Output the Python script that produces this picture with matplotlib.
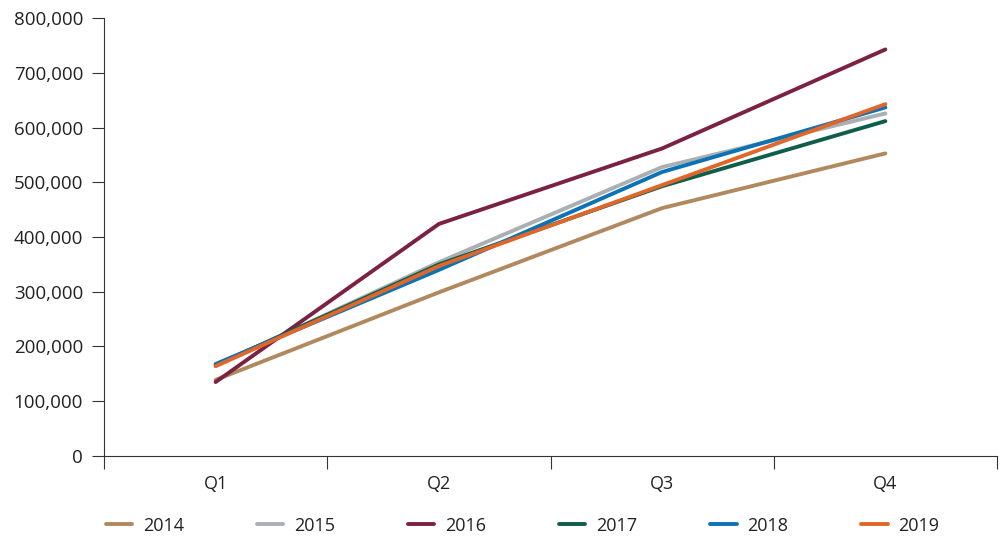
import matplotlib
matplotlib.use('Agg')
import matplotlib.pyplot as plt
import numpy as np
from matplotlib.ticker import FuncFormatter, FixedLocator

quarters = ['Q1', 'Q2', 'Q3', 'Q4']
years = ['2014', '2015', '2016', '2017', '2018', '2019']
v2014 = [139000, 299000, 453000, 553000]
v2015 = [165000, 354000, 528000, 626000]
v2016 = [135000, 424000, 562000, 743000]
v2017 = [166000, 350000, 493000, 612000]
v2018 = [168000, 340000, 519000, 637000]
v2019 = [164000, 347000, 495000, 643000]
colors = ['#B08A5E', '#A9AFB2', '#7B2141', '#0F5E4C', '#0B72B5', '#E0662A']

plt.rcParams['font.family'] = ['Open Sans', 'DejaVu Sans']

fig = plt.figure(figsize=(10, 5.37), dpi=100)
ax = fig.add_axes([0.104, 0.151, 0.893, 0.815])

x = np.arange(len(quarters))
for vals, yr, c in zip([v2014, v2015, v2016, v2017, v2018, v2019], years, colors):
    ax.plot(x, vals, color=c, lw=2.8, label=yr, solid_capstyle='round')

ax.set_xlim(-0.5, 3.5)
ax.set_ylim(0, 800000)
ax.set_yticks(np.arange(0, 800001, 100000))
ax.yaxis.set_major_formatter(FuncFormatter(lambda v, p: f'{int(v):,}'))
ax.set_xticks(x)
ax.set_xticklabels(quarters)
ax.xaxis.set_minor_locator(FixedLocator([-0.5, 0.5, 1.5, 2.5, 3.5]))
ax.tick_params(axis='x', which='major', length=0, pad=14, labelsize=13, labelcolor='#222222')
ax.tick_params(axis='x', which='minor', length=9, width=0.8, color='#333333')
ax.tick_params(axis='y', length=9, width=0.8, pad=6, labelsize=13.5, labelcolor='#222222', color='#333333')

for s in ['top', 'right']:
    ax.spines[s].set_visible(False)
for s in ['left', 'bottom']:
    ax.spines[s].set_linewidth(0.8)
    ax.spines[s].set_color('#333333')

leg = fig.legend(loc='center left', bbox_to_anchor=(0.093, 0.021), ncol=6, frameon=False,
                 handlelength=1.45, columnspacing=4.05, handletextpad=0.6, fontsize=13,
                 borderpad=0.2)
for t in leg.get_texts():
    t.set_color('#222222')

fig.savefig('out.png', dpi=100)
